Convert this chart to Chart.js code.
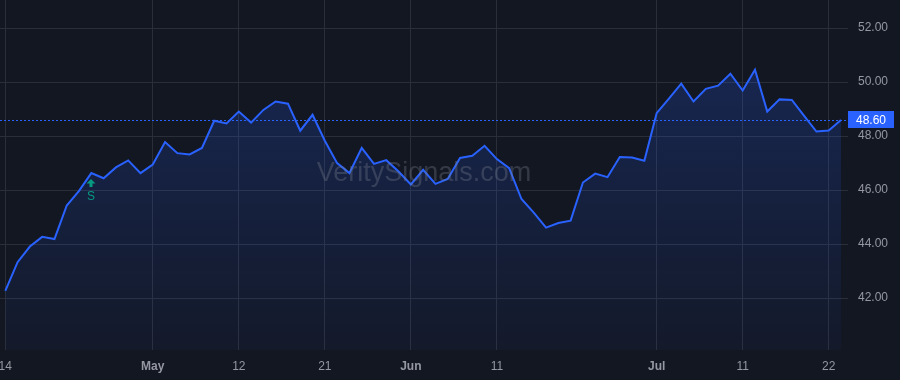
<!DOCTYPE html>
<html>
<head>
<meta charset="utf-8">
<title>Price chart</title>
<script src="https://cdn.jsdelivr.net/npm/chart.js@4.4.1/dist/chart.umd.min.js"></script>
<style>
  html, body { margin: 0; padding: 0; background: #131722; }
  #wrap { width: 900px; height: 380px; }
</style>
</head>
<body>
<div id="wrap"><canvas id="priceChart" width="900" height="380"></canvas></div>
<script>
// trading days, Apr 14 - Jul 23
var dates = [
	'Apr 14','Apr 15','Apr 16','Apr 17','Apr 21','Apr 22','Apr 23','Apr 24','Apr 25','Apr 28','Apr 29','Apr 30',
	'May 1','May 2','May 5','May 6','May 7','May 8','May 9','May 12','May 13','May 14','May 15','May 16',
	'May 19','May 20','May 21','May 22','May 23','May 27','May 28','May 29','May 30',
	'Jun 2','Jun 3','Jun 4','Jun 5','Jun 6','Jun 9','Jun 10','Jun 11','Jun 12','Jun 13','Jun 16','Jun 17',
	'Jun 18','Jun 20','Jun 23','Jun 24','Jun 25','Jun 26','Jun 27','Jun 30',
	'Jul 1','Jul 2','Jul 3','Jul 7','Jul 8','Jul 9','Jul 10','Jul 11','Jul 14','Jul 15','Jul 16','Jul 17',
	'Jul 18','Jul 21','Jul 22','Jul 23'
];

var prices = [
	42.27, 43.33, 43.91, 44.27, 44.19, 45.43, 45.97, 46.63, 46.44, 46.84, 47.10, 46.63,
	46.95, 47.78, 47.37, 47.32, 47.56, 48.57, 48.47, 48.91, 48.50, 48.97, 49.28, 49.20,
	48.20, 48.79, 47.83, 47.00, 46.63, 47.56, 46.97, 47.11, 46.69,
	46.21, 46.75, 46.23, 46.41, 47.19, 47.27, 47.64, 47.15, 46.81, 45.67, 45.17, 44.61,
	44.78, 44.87, 46.28, 46.61, 46.48, 47.23, 47.21, 47.09,
	48.85, 49.39, 49.94, 49.28, 49.75, 49.87, 50.31, 49.69, 50.46, 48.91, 49.36, 49.34,
	48.75, 48.17, 48.21, 48.60
];

var tickDates = ['Apr 14','May 1','May 12','May 21','Jun 2','Jun 11','Jul 1','Jul 11','Jul 22'];
var tickLabels = ['14','May','12','21','Jun','11','Jul','11','22'];
var monthLabels = ['May','Jun','Jul'];
var yTicks = [42, 44, 46, 48, 50, 52];

var signalDates = ['Apr 24'];
var signalLabels = ['S'];
var watermark = 'VeritySignals.com';

var FONT = '"Liberation Sans", Arial, sans-serif';

var points = prices.map(function(p, i) { return { x: i, y: p }; });
var tickIdx = tickDates.map(function(d) { return dates.indexOf(d); });
var lastPrice = prices[prices.length - 1];

// watermark + dotted last-price line
var underLayer = {
	id: 'underLayer',
	beforeDatasetsDraw: function(chart) {
		var c = chart.ctx, a = chart.chartArea;
		c.save();
		var y = Math.round(chart.scales.y.getPixelForValue(lastPrice)) + 0.5;
		c.strokeStyle = '#2962ff';
		c.lineWidth = 1;
		c.setLineDash([2, 2]);
		c.beginPath();
		c.moveTo(a.left, y);
		c.lineTo(a.right, y);
		c.stroke();
		c.restore();
	},
	afterDatasetsDraw: function(chart) {
		var c = chart.ctx, a = chart.chartArea;
		c.save();
		c.font = '27px ' + FONT;
		c.fillStyle = 'rgba(125,130,145,0.32)';
		c.textAlign = 'center';
		c.textBaseline = 'middle';
		c.fillText(watermark, (a.left + a.right) / 2, (a.top + a.bottom) / 2 - 1);
		c.restore();
	}
};

// buy signal markers + last price tag
var overLayer = {
	id: 'overLayer',
	afterDatasetsDraw: function(chart) {
		var c = chart.ctx, xs = chart.scales.x, ys = chart.scales.y;
		c.save();
		signalDates.forEach(function(d, k) {
			var i = dates.indexOf(d);
			var x = Math.round(xs.getPixelForValue(i));
			var y = ys.getPixelForValue(prices[i]);
			c.fillStyle = '#089981';
			c.beginPath();
			c.moveTo(x, y + 6);
			c.lineTo(x + 4.5, y + 10.5);
			c.lineTo(x + 1.5, y + 10.5);
			c.lineTo(x + 1.5, y + 14);
			c.lineTo(x - 1.5, y + 14);
			c.lineTo(x - 1.5, y + 10.5);
			c.lineTo(x - 4.5, y + 10.5);
			c.closePath();
			c.fill();
			c.font = '12px ' + FONT;
			c.textAlign = 'center';
			c.textBaseline = 'middle';
			c.fillText(signalLabels[k], x, y + 24);
		});
		c.restore();
	},
	afterDraw: function(chart) {
		var c = chart.ctx, a = chart.chartArea;
		var y = chart.scales.y.getPixelForValue(lastPrice);
		c.save();
		c.fillStyle = '#2962ff';
		c.fillRect(a.right, Math.round(y - 8.5), 46, 17);
		c.fillStyle = '#ffffff';
		c.font = '12px ' + FONT;
		c.textAlign = 'center';
		c.textBaseline = 'middle';
		c.fillText(lastPrice.toFixed(2), a.right + 23, y + 0.5);
		c.restore();
	}
};

var ctx = document.getElementById('priceChart').getContext('2d');
new Chart(ctx, {
	type: 'line',
	data: {
		datasets: [{
			data: points,
			borderColor: '#2962ff',
			borderWidth: 2,
			pointRadius: 0,
			tension: 0,
			fill: 'start',
			backgroundColor: function(context) {
				var a = context.chart.chartArea;
				if (!a) return 'rgba(41,98,255,0.15)';
				var g = context.chart.ctx.createLinearGradient(0, a.top, 0, a.bottom);
				g.addColorStop(0, 'rgba(41,98,255,0.25)');
				g.addColorStop(1, 'rgba(41,98,255,0.04)');
				return g;
			}
		}]
	},
	options: {
		responsive: false,
		animation: false,
		devicePixelRatio: 1,
		layout: { padding: 0 },
		plugins: {
			legend: { display: false },
			tooltip: { enabled: false }
		},
		scales: {
			x: {
				type: 'linear',
				min: -0.431,
				max: 68.57,
				border: { display: false },
				grid: { color: '#2a2e39', drawTicks: false },
				afterBuildTicks: function(scale) {
					scale.ticks = tickIdx.map(function(v) { return { value: v }; });
				},
				afterFit: function(scale) {
					scale.height = 30;
					scale.paddingLeft = 0;
					scale.paddingRight = 0;
				},
				ticks: {
					padding: 9,
					color: '#9598a1',
					maxRotation: 0,
					autoSkip: false,
					font: function(c) {
						var bold = monthLabels.indexOf(tickLabels[c.index]) >= 0;
						return { family: FONT, size: 12, weight: bold ? 'bold' : 'normal' };
					},
					callback: function(v, i) { return tickLabels[i]; }
				}
			},
			y: {
				position: 'right',
				min: 40.08,
				max: 53.04,
				border: { display: false },
				grid: { color: '#2a2e39', drawTicks: false },
				afterBuildTicks: function(scale) {
					scale.ticks = yTicks.map(function(v) { return { value: v }; });
				},
				afterFit: function(scale) {
					scale.width = 52;
					scale.paddingTop = 0;
					scale.paddingBottom = 0;
				},
				ticks: {
					padding: 10,
					color: '#9598a1',
					font: { family: FONT, size: 12 },
					callback: function(v) { return Number(v).toFixed(2); }
				}
			}
		}
	},
	plugins: [underLayer, overLayer]
});
</script>
</body>
</html>
